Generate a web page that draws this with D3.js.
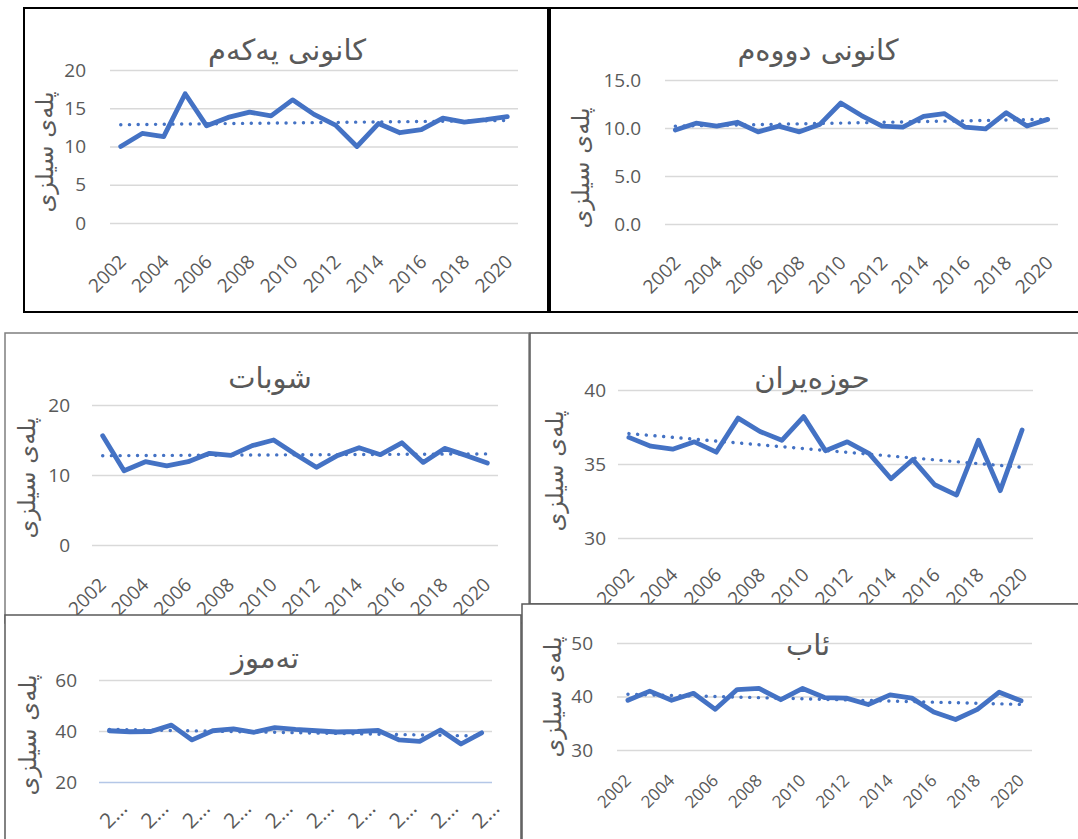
<!DOCTYPE html>
<html>
<head>
<meta charset="utf-8">
<script src="https://cdn.jsdelivr.net/npm/d3@7"></script>
<style>
  html, body { margin: 0; padding: 0; background: #fff; }
  svg { display: block; }
</style>
</head>
<body>
<svg id="chart" width="1078" height="839"></svg>
<script>
// ---------- DATA ----------
const years = [2002, 2003, 2004, 2005, 2006, 2007, 2008, 2009, 2010, 2011,
               2012, 2013, 2014, 2015, 2016, 2017, 2018, 2019, 2020];
const labelYears = [2002, 2004, 2006, 2008, 2010, 2012, 2014, 2016, 2018, 2020];

const titles = ["کانونی یەکەم", "کانونی دووەم", "شوبات", "حوزەیران", "تەموز", "ئاب"];
const yAxisTitle = "پلەی سیلزی";

const decemberValues = [10.0, 11.7, 11.3, 16.9, 12.7, 13.8, 14.5, 14.0, 16.1, 14.2,
                        12.8, 10.0, 13.0, 11.8, 12.2, 13.7, 13.2, 13.5, 13.9];
const januaryValues  = [9.8, 10.5, 10.2, 10.6, 9.6, 10.2, 9.6, 10.4, 12.6, 11.3,
                        10.2, 10.1, 11.2, 11.5, 10.1, 9.9, 11.6, 10.2, 10.9];
const februaryValues = [15.6, 10.6, 11.9, 11.3, 11.9, 13.1, 12.8, 14.2, 15.0, 13.0,
                        11.1, 12.8, 13.9, 12.9, 14.6, 11.8, 13.8, 12.8, 11.7];
const juneValues     = [36.8, 36.2, 36.0, 36.5, 35.8, 38.1, 37.2, 36.6, 38.2, 35.9,
                        36.5, 35.7, 34.0, 35.3, 33.6, 32.9, 36.6, 33.2, 37.3];
const julyValues     = [40.1, 39.7, 39.8, 42.3, 36.5, 40.1, 40.8, 39.5, 41.3, 40.6,
                        40.1, 39.6, 39.8, 40.2, 36.5, 35.9, 40.4, 34.9, 39.3];
const augustValues   = [39.3, 41.0, 39.3, 40.6, 37.6, 41.3, 41.5, 39.4, 41.5, 39.8,
                        39.7, 38.5, 40.3, 39.7, 37.1, 35.7, 37.6, 40.8, 39.2];

const ticksDec = [0, 5, 10, 15, 20];
const ticksJan = [0, 5, 10, 15];
const ticksFeb = [0, 10, 20];
const ticksJun = [30, 35, 40];
const ticksJul = [20, 40, 60];
const ticksAug = [30, 40, 50];

// ---------- LAYOUT ----------
const BLUE = "#4472C4";
const TEXT = "#595959";
const GRID = "#d9d9d9";
const NUMFONT = "'Open Sans', 'Noto Sans', sans-serif";
const ARFONT = "'DejaVu Sans', sans-serif";

const panels = [
  { title: titles[0], values: decemberValues, ticks: ticksDec, fmt: d3.format("d"),
    box: [24, 8, 524, 304], border: "#000", bw: 2,
    xr: [110, 518], yd: [0, 20], yr: [223, 70], titlePos: [287, 50], yTitlePos: [45, 152],
    tickX: 86, xLabelSize: 19, xOff: [1, 35], xLabelMode: "full" },
  { title: titles[1], values: januaryValues, ticks: ticksJan, fmt: d3.format(".1f"),
    box: [550, 8, 540, 304], border: "#000", bw: 2,
    xr: [665, 1058], yd: [0, 15], yr: [224, 80], titlePos: [818, 50], yTitlePos: [581, 168],
    tickX: 641, xLabelSize: 19, xOff: [1, 35], xLabelMode: "full" },
  { title: titles[2], values: februaryValues, ticks: ticksFeb, fmt: d3.format("d"),
    box: [5, 333, 524, 290], border: "#7f7f7f", bw: 1.5,
    xr: [92, 498], yd: [0, 20], yr: [545, 405], titlePos: [270, 378], yTitlePos: [27, 478],
    tickX: 70, xLabelSize: 19, xOff: [-1, 36], xLabelMode: "full" },
  { title: titles[3], values: juneValues, ticks: ticksJun, fmt: d3.format("d"),
    box: [530, 333, 560, 271], border: "#595959", bw: 1.5,
    xr: [618, 1033], yd: [30, 40], yr: [538, 390], titlePos: [812, 378], yTitlePos: [555, 471],
    tickX: 606, xLabelSize: 19, xOff: [1, 33], xLabelMode: "full" },
  { title: titles[5], values: augustValues, ticks: ticksAug, fmt: d3.format("d"),
    box: [522, 604, 560, 250], border: "#595959", bw: 1.5,
    xr: [617, 1032], yd: [30, 50], yr: [750, 643], titlePos: [808, 645], yTitlePos: [553, 697],
    tickX: 593, xLabelSize: 17, xOff: [-1, 27], xLabelMode: "full" },
  { title: titles[4], values: julyValues, ticks: ticksJul, fmt: d3.format("d"),
    box: [5, 615, 516, 240], border: "#595959", bw: 1.5,
    xr: [99, 492], yd: [20, 60], yr: [782, 680], titlePos: [265, 658], yTitlePos: [28, 735],
    tickX: 77, xLabelSize: 21, xOff: [13, 22], xLabelMode: "trunc", baseColor: "#b4c7e7" }
];

const svg = d3.select("#chart");

function linReg(xs, ys) {
  const n = xs.length;
  const mx = d3.mean(xs), my = d3.mean(ys);
  let num = 0, den = 0;
  for (let i = 0; i < n; i++) { num += (xs[i] - mx) * (ys[i] - my); den += (xs[i] - mx) ** 2; }
  const b = num / den, a = my - b * mx;
  return x => a + b * x;
}

panels.forEach(p => {
  const g = svg.append("g");
  const [bx, by, bw, bh] = p.box;
  g.append("rect").attr("x", bx).attr("y", by).attr("width", bw).attr("height", bh)
    .attr("fill", "#fff").attr("stroke", p.border).attr("stroke-width", p.bw);

  const x = d3.scalePoint().domain(years).range(p.xr).padding(0.5);
  const y = d3.scaleLinear().domain(p.yd).range(p.yr);

  // gridlines + y tick labels
  const yAxis = d3.axisLeft(y).tickValues(p.ticks).tickFormat(p.fmt)
    .tickSize(-(p.xr[1] - p.xr[0])).tickPadding(p.xr[0] - p.tickX);
  const ya = g.append("g").attr("transform", `translate(${p.xr[0]},0)`).call(yAxis);
  ya.select(".domain").remove();
  ya.selectAll(".tick line").attr("stroke", d => (p.baseColor && d === p.yd[0]) ? p.baseColor : GRID)
    .attr("stroke-width", 1.4);
  ya.selectAll(".tick text").attr("fill", TEXT).attr("font-family", NUMFONT)
    .attr("font-size", 19);

  // x labels
  const xAxis = d3.axisBottom(x).tickValues(labelYears).tickSize(0)
    .tickFormat(d => p.xLabelMode === "trunc" ? "2…" : String(d));
  const xa = g.append("g").attr("transform", `translate(0,${p.yr[0]})`).call(xAxis);
  xa.select(".domain").remove();
  xa.selectAll(".tick text")
    .attr("fill", TEXT).attr("font-family", NUMFONT).attr("font-size", p.xLabelSize)
    .attr("text-anchor", "end").attr("dy", null).attr("y", 0)
    .attr("transform", `translate(${p.xOff[0]},${p.xOff[1]}) rotate(-45)`)
    .attr("dominant-baseline", "central");

  // trendline (linear fit of the series)
  const f = linReg(years, p.values);
  g.append("line")
    .attr("x1", x(years[0])).attr("y1", y(f(years[0])))
    .attr("x2", x(years[years.length - 1])).attr("y2", y(f(years[years.length - 1])))
    .attr("stroke", BLUE).attr("stroke-width", 3.4).attr("stroke-linecap", "round")
    .attr("stroke-dasharray", "0.1 8.6");

  // main line
  const line = d3.line().x((d, i) => x(years[i])).y(d => y(d));
  g.append("path").datum(p.values).attr("d", line)
    .attr("fill", "none").attr("stroke", BLUE).attr("stroke-width", 4.8)
    .attr("stroke-linejoin", "round").attr("stroke-linecap", "round");

  // title
  g.append("text").attr("x", p.titlePos[0]).attr("y", p.titlePos[1])
    .attr("text-anchor", "middle").attr("dominant-baseline", "central")
    .attr("font-family", ARFONT).attr("font-size", 29).attr("fill", TEXT)
    .text(p.title);

  // y-axis title
  g.append("text").attr("transform", `translate(${p.yTitlePos[0]},${p.yTitlePos[1]}) rotate(-90)`)
    .attr("text-anchor", "middle").attr("dominant-baseline", "central")
    .attr("font-family", ARFONT).attr("font-size", 24).attr("fill", TEXT)
    .text(yAxisTitle);
});
</script>
</body>
</html>
